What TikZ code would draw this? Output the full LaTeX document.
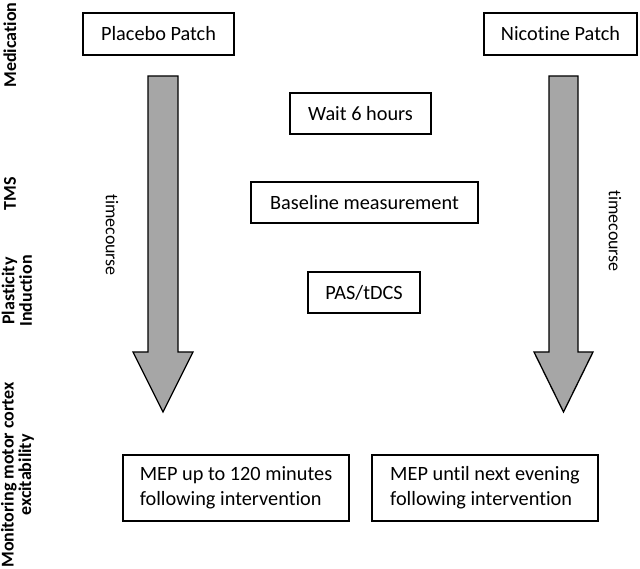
\documentclass[tikz,border=0pt]{standalone}
\usepackage{fontspec}
\setmainfont{Carlito}[Ligatures=NoCommon]
\begin{document}
\begin{tikzpicture}[x=1pt,y=-1pt,
  box/.style={draw=black,line width=1.3pt,inner sep=0pt,font=\fontsize{20.3}{24.8}\selectfont},
  mbox/.style={box,align=left,minimum width=226pt,minimum height=66pt},
  sidelbl/.style={rotate=90,font=\bfseries\fontsize{18}{17.5}\selectfont,align=center,inner sep=0pt},
  tclbl/.style={rotate=-90,font=\fontsize{18}{20}\selectfont,inner sep=0pt},
  bigarrow/.style={draw=black,line width=1.3pt,fill=black!35,line join=miter}]
\useasboundingbox (0,0) rectangle (640,569);
% top boxes
\node[box,minimum width=151pt,minimum height=42pt] (placebo) at (158.5,34) {Placebo Patch};
\node[box,minimum width=153pt,minimum height=42pt] (nicotine) at (560.5,34) {Nicotine Patch};
% middle boxes
\node[box,minimum width=141pt,minimum height=41pt] (wait) at (360.5,113.5) {Wait 6 hours};
\node[box,minimum width=227pt,minimum height=41pt] (baseline) at (364.5,202.5) {Baseline measurement};
\node[box,minimum width=112pt,minimum height=41pt] (pas) at (364,292.5) {PAS/tDCS};
% bottom boxes
\node[mbox] (mepL) at (236,488) {MEP up to 120 minutes\\following intervention};
\node[mbox] (mepR) at (485,488) {MEP until next evening\\following intervention};
% arrows
\draw[bigarrow] (148,76) -- (178,76) -- (178,352) -- (193,352) -- (163,412) -- (133,352) -- (148,352) -- cycle;
\draw[bigarrow] (549,76) -- (578,76) -- (578,352) -- (593,352) -- (563.5,412) -- (534,352) -- (549,352) -- cycle;
% timecourse labels
\node[tclbl] (tcL) at (112,235) {timecourse};
\node[tclbl] (tcR) at (615,231) {timecourse};
% side labels
\node[sidelbl] (lmed) at (10,45) {Medication};
\node[sidelbl] (ltms) at (10,194) {TMS};
\node[sidelbl] (lpl) at (17,291) {Plasticity\\Induction};
\node[sidelbl] (lmon) at (17.5,475) {Monitoring motor cortex\\excitability};
\end{tikzpicture}
\end{document}
